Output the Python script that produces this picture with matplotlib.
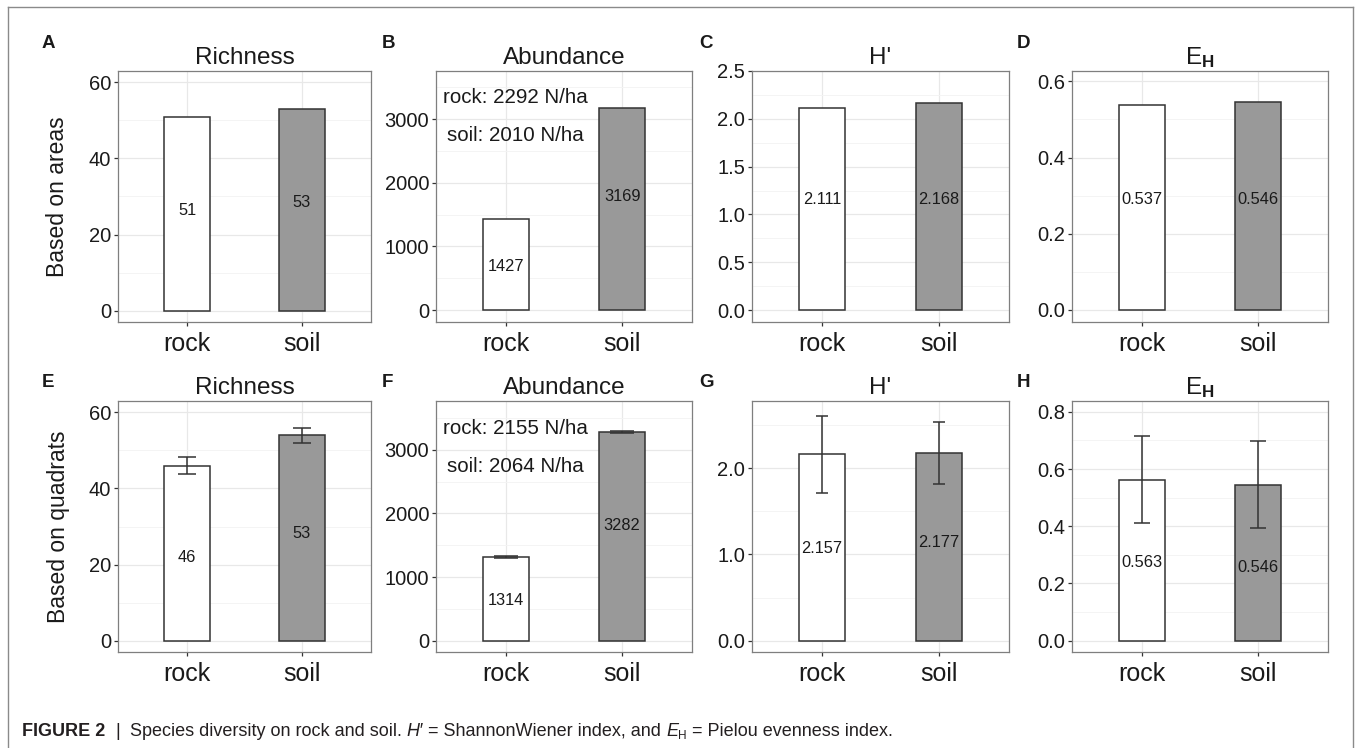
import matplotlib
matplotlib.use('Agg')
import matplotlib.pyplot as plt
from matplotlib.lines import Line2D
from matplotlib.ticker import MultipleLocator, FormatStrFormatter
import matplotlib.transforms as mtransforms

# ---------------- data ----------------
categories = ['rock', 'soil']

richness_area = [51, 53]
abundance_area = [1427, 3169]
shannon_area = [2.111, 2.168]
evenness_area = [0.537, 0.546]

richness_quad = [46, 54]
richness_quad_labels = ['46', '53']
richness_quad_err = [2.3, 2.0]
abundance_quad = [1314, 3282]
abundance_quad_err = [10, 10]
shannon_quad = [2.157, 2.177]
shannon_quad_err = [0.447, 0.358]
evenness_quad = [0.563, 0.546]
evenness_quad_err = [0.151, 0.151]

density_area = [2292, 2010]
density_quad = [2155, 2064]

titles = ['Richness', 'Abundance', "H'", r'E$_{\mathbf{H}}$']
row_labels = ['Based on areas', 'Based on quadrats']
panel_letters = ['A', 'B', 'C', 'D', 'E', 'F', 'G', 'H']

# ---------------- style / layout ----------------
plt.rcParams['font.family'] = ['Liberation Sans', 'DejaVu Sans']
plt.rcParams['mathtext.fontset'] = 'custom'
plt.rcParams['mathtext.rm'] = 'Liberation Sans'
plt.rcParams['mathtext.bf'] = 'Liberation Sans:bold'
plt.rcParams['mathtext.it'] = 'Liberation Sans:italic'

W, H = 1356, 748
fig = plt.figure(figsize=(W / 100, H / 100), dpi=100)

BAR_COLORS = ['white', '#999999']
EDGE = '#333333'
SPINE = '#7f7f7f'
TXT = '#1a1a1a'

lefts = [118, 436, 752, 1072]
rights = [371, 692, 1009, 1328]
tops = [71, 401]
bottoms = [322, 652]

letter_x = [42, 382, 699, 1017]
letter_y = [48, 387]

# vertical placement of value labels, as a fraction of the bar height
label_frac = [
    [0.514, 0.534], [0.477, 0.565], [0.55, 0.535], [0.538, 0.529],
    [0.474, 0.522], [0.479, 0.554], [0.496, 0.524], [0.487, 0.471],
]


def px_axes(l, r, t, b):
    return fig.add_axes([l / W, 1 - b / H, (r - l) / W, (b - t) / H])


def style_axes(ax, ylim, major, minor, fmt):
    ax.set_xlim(0.4, 2.6)
    ax.set_ylim(*ylim)
    ax.set_facecolor('white')
    ax.yaxis.set_major_locator(MultipleLocator(major))
    ax.yaxis.set_minor_locator(MultipleLocator(minor))
    ax.yaxis.set_major_formatter(FormatStrFormatter(fmt))
    ax.set_xticks([1, 2])
    ax.set_xticklabels(categories)
    ax.grid(which='major', color='#e8e8e8', lw=0.9, zorder=0)
    ax.grid(which='minor', axis='y', color='#f3f3f3', lw=0.6, zorder=0)
    ax.set_axisbelow(True)
    for s in ax.spines.values():
        s.set_color(SPINE)
        s.set_linewidth(0.9)
    ax.tick_params(axis='x', which='major', length=3.2, width=0.9, color='#333333',
                   labelsize=18, pad=4.0, labelcolor=TXT)
    ax.tick_params(axis='y', which='major', length=3.2, width=0.9, color='#333333',
                   labelsize=14.5, pad=1.8, labelcolor=TXT)
    ax.tick_params(axis='y', which='minor', length=0)


def draw_bars(ax, values, labels, fracs, err=None, capsize=6):
    x = [1, 2]
    ax.bar(x, values, width=0.4, color=BAR_COLORS, edgecolor=EDGE, linewidth=1.1, zorder=3)
    if err is not None:
        ax.errorbar(x, values, yerr=err, fmt='none', ecolor=EDGE, elinewidth=1.1,
                    capsize=capsize, capthick=1.1, zorder=4)
    for xi, v, lab, fr in zip(x, values, labels, fracs):
        ax.text(xi, v * fr, lab, ha='center', va='center', fontsize=11.8, color=TXT, zorder=5)


def density_text(ax, dens):
    ax.text(1.08, 3330, f'rock: {dens[0]} N/ha', ha='center', va='center', fontsize=14.8, color=TXT, zorder=5)
    ax.text(1.08, 2745, f'soil: {dens[1]} N/ha', ha='center', va='center', fontsize=14.8, color=TXT, zorder=5)


panels = [
    # row 0
    dict(vals=richness_area, labs=[str(v) for v in richness_area], err=None,
         ylim=(-3, 63), major=20, minor=10, fmt='%d', cap=6),
    dict(vals=abundance_area, labs=[str(v) for v in abundance_area], err=None,
         ylim=(-188, 3754), major=1000, minor=500, fmt='%d', cap=6, dens=density_area),
    dict(vals=shannon_area, labs=[f'{v:.3f}' for v in shannon_area], err=None,
         ylim=(-0.125, 2.5), major=0.5, minor=0.25, fmt='%.1f', cap=6),
    dict(vals=evenness_area, labs=[f'{v:.3f}' for v in evenness_area], err=None,
         ylim=(-0.0315, 0.627), major=0.2, minor=0.1, fmt='%.1f', cap=6),
    # row 1
    dict(vals=richness_quad, labs=richness_quad_labels, err=richness_quad_err,
         ylim=(-3, 63), major=20, minor=10, fmt='%d', cap=6.2),
    dict(vals=abundance_quad, labs=[str(v) for v in abundance_quad], err=abundance_quad_err,
         ylim=(-178, 3769), major=1000, minor=500, fmt='%d', cap=8.3, dens=density_quad),
    dict(vals=shannon_quad, labs=[f'{v:.3f}' for v in shannon_quad], err=shannon_quad_err,
         ylim=(-0.131, 2.776), major=1.0, minor=0.5, fmt='%.1f', cap=4.0),
    dict(vals=evenness_quad, labs=[f'{v:.3f}' for v in evenness_quad], err=evenness_quad_err,
         ylim=(-0.0395, 0.838), major=0.2, minor=0.1, fmt='%.1f', cap=5.6),
]

for i, p in enumerate(panels):
    row, col = divmod(i, 4)
    ax = px_axes(lefts[col], rights[col], tops[row], bottoms[row])
    style_axes(ax, p['ylim'], p['major'], p['minor'], p['fmt'])
    draw_bars(ax, p['vals'], p['labs'], label_frac[i], p['err'], p['cap'])
    if 'dens' in p:
        density_text(ax, p['dens'])
    ax.set_title(titles[col], fontsize=17.5, pad=5, color=TXT)
    fig.text(letter_x[col] / W, 1 - letter_y[row] / H, panel_letters[i],
             fontsize=13.5, fontweight='bold', ha='left', va='baseline', color=TXT)

# row labels
for row in range(2):
    yc = (tops[row] + bottoms[row]) / 2
    fig.text(58 / W, 1 - yc / H, row_labels[row], rotation=90, ha='center', va='center',
             fontsize=16.5, color=TXT)

# outer frame (left, top, right; continues below the image)
frame_c = '#8a8a8a'
fig.add_artist(Line2D([8 / W, 8 / W], [0, 1 - 7 / H], color=frame_c, lw=1.0))
fig.add_artist(Line2D([8 / W, 1353 / W], [1 - 7 / H, 1 - 7 / H], color=frame_c, lw=1.0))
fig.add_artist(Line2D([1353 / W, 1353 / W], [0, 1 - 7 / H], color=frame_c, lw=1.0))

# caption
cap_fam = ['Liberation Sans', 'DejaVu Sans']
cap_size = 13.0
CAPC = '#231f20'

fig.canvas.draw()
renderer = fig.canvas.get_renderer()
ident = mtransforms.IdentityTransform()


def measure(s, **kw):
    t = fig.text(0, 0, s, transform=ident, **kw)
    w = t.get_window_extent(renderer).width
    t.remove()
    return w


base_kw = dict(family=cap_fam, fontsize=cap_size, color=CAPC)
space_w = measure('x x', **base_kw) - measure('xx', **base_kw)

pieces = [
    ('FIGURE 2', dict(fontweight='bold'), 0, 2.0),
    ('|', dict(), 0, 2.0),
    ('Species diversity on rock and soil.', dict(), 0, 1),
    ('H′', dict(style='italic'), 0, 1),
    ('= ShannonWiener index, and', dict(), 0, 1),
    ('E', dict(style='italic'), 0, 0),
    ('H', dict(fontsize=cap_size * 0.65), -3, 1),
    ('= Pielou evenness index.', dict(), 0, 0),
]

x = 22
ybase = H - 736
for s, kw, dy, nsp in pieces:
    k = dict(base_kw)
    k.update(kw)
    t = fig.text(x, ybase + dy, s, transform=ident, ha='left', va='baseline', **k)
    w = t.get_window_extent(renderer).width
    x += w + space_w * nsp

fig.savefig('out.png', dpi=100)
